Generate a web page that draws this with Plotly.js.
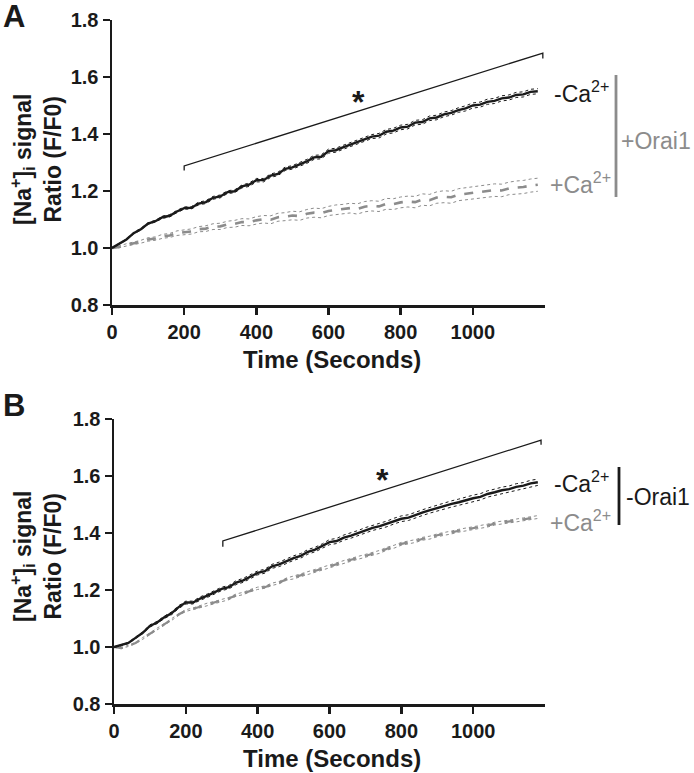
<!DOCTYPE html>
<html>
<head>
<meta charset="utf-8">
<script src="https://cdn.plot.ly/plotly-3.0.1.min.js"></script>
<style>html,body{margin:0;padding:0;background:#fff;}#chart{width:694px;height:773px;}</style>
</head>
<body>
<div id="chart"></div>
<script>
// ---- data ----
const time = [0,20,40,60,80,100,120,140,160,180,200,220,240,260,280,300,320,340,360,380,
  400,420,440,460,480,500,520,540,560,580,600,620,640,660,680,700,720,740,760,780,
  800,820,840,860,880,900,920,940,960,980,1000,1020,1040,1060,1080,1100,1120,1140,1160,1180];

// Panel A (+Orai1)
const aNoCa = [1.000,1.016,1.030,1.052,1.066,1.086,1.094,1.108,1.113,1.128,
  1.140,1.141,1.156,1.161,1.176,1.181,1.196,1.199,1.216,1.222,
  1.238,1.238,1.254,1.260,1.278,1.283,1.294,1.304,1.318,1.320,
  1.340,1.343,1.353,1.362,1.373,1.380,1.391,1.394,1.408,1.412,
  1.423,1.426,1.440,1.442,1.455,1.458,1.469,1.474,1.484,1.490,
  1.500,1.503,1.513,1.516,1.525,1.528,1.537,1.539,1.548,1.550];
const aNoCaSem = [0.001,0.002,0.002,0.003,0.003,0.003,0.003,0.004,0.004,0.004,
  0.004,0.004,0.005,0.005,0.005,0.005,0.005,0.005,0.005,0.006,
  0.006,0.006,0.006,0.006,0.006,0.006,0.006,0.007,0.007,0.007,
  0.007,0.007,0.007,0.007,0.007,0.007,0.007,0.008,0.008,0.008,
  0.008,0.008,0.008,0.008,0.008,0.008,0.008,0.008,0.008,0.009,
  0.009,0.009,0.009,0.009,0.009,0.009,0.009,0.009,0.009,0.009];
const aCa = [1.000,1.004,1.011,1.016,1.022,1.030,1.033,1.041,1.044,1.052,
  1.055,1.058,1.066,1.068,1.075,1.076,1.083,1.085,1.091,1.090,
  1.097,1.101,1.099,1.108,1.110,1.114,1.112,1.120,1.124,1.122,
  1.130,1.134,1.136,1.140,1.137,1.145,1.148,1.146,1.155,1.154,
  1.160,1.163,1.161,1.170,1.168,1.177,1.180,1.178,1.187,1.190,
  1.193,1.195,1.199,1.203,1.202,1.209,1.212,1.214,1.219,1.222];
const aCaSem = [0.002,0.003,0.004,0.005,0.005,0.006,0.006,0.007,0.007,0.008,
  0.008,0.009,0.009,0.010,0.010,0.011,0.011,0.012,0.012,0.012,
  0.013,0.013,0.014,0.014,0.014,0.015,0.015,0.015,0.016,0.016,
  0.016,0.017,0.017,0.017,0.018,0.018,0.018,0.018,0.019,0.019,
  0.019,0.019,0.020,0.020,0.020,0.020,0.021,0.021,0.021,0.021,
  0.021,0.022,0.022,0.022,0.022,0.022,0.023,0.023,0.023,0.023];

// Panel B (-Orai1)
const bNoCa = [1.000,1.006,1.014,1.032,1.050,1.074,1.086,1.104,1.118,1.140,
  1.156,1.156,1.170,1.180,1.192,1.204,1.210,1.226,1.234,1.248,
  1.260,1.266,1.283,1.290,1.302,1.312,1.320,1.334,1.342,1.354,
  1.368,1.372,1.384,1.391,1.400,1.410,1.418,1.424,1.432,1.442,
  1.450,1.454,1.464,1.472,1.480,1.488,1.494,1.502,1.508,1.516,
  1.522,1.527,1.537,1.543,1.550,1.554,1.562,1.566,1.574,1.578];
const bNoCaSem = [0.001,0.002,0.002,0.003,0.003,0.004,0.004,0.004,0.005,0.005,
  0.005,0.005,0.006,0.006,0.006,0.006,0.006,0.007,0.007,0.007,
  0.007,0.007,0.007,0.008,0.008,0.008,0.008,0.008,0.008,0.008,
  0.009,0.009,0.009,0.009,0.009,0.009,0.009,0.009,0.010,0.010,
  0.010,0.010,0.010,0.010,0.010,0.010,0.010,0.011,0.011,0.011,
  0.011,0.011,0.011,0.011,0.011,0.011,0.011,0.011,0.011,0.011];
const bCa = [1.000,0.996,1.004,1.014,1.030,1.046,1.062,1.080,1.096,1.114,
  1.128,1.134,1.142,1.150,1.156,1.164,1.170,1.182,1.188,1.198,
  1.206,1.210,1.220,1.226,1.238,1.244,1.252,1.260,1.266,1.274,
  1.284,1.292,1.298,1.306,1.313,1.320,1.328,1.334,1.345,1.352,
  1.362,1.366,1.372,1.380,1.384,1.392,1.396,1.402,1.408,1.412,
  1.418,1.422,1.426,1.433,1.436,1.441,1.444,1.448,1.452,1.456];
const bCaSem = [0.001,0.002,0.002,0.002,0.003,0.003,0.003,0.003,0.003,0.003,
  0.003,0.003,0.004,0.004,0.004,0.004,0.004,0.004,0.004,0.004,
  0.004,0.004,0.004,0.004,0.004,0.005,0.005,0.005,0.005,0.005,
  0.005,0.005,0.005,0.005,0.005,0.005,0.005,0.005,0.005,0.005,
  0.005,0.005,0.005,0.005,0.005,0.005,0.005,0.005,0.005,0.005,
  0.005,0.005,0.005,0.005,0.005,0.005,0.005,0.005,0.005,0.005];

const xTicks = [0,200,400,600,800,1000];
const yTicks = [0.8,1.0,1.2,1.4,1.6,1.8];
const yTickText = ['0.8','1.0','1.2','1.4','1.6','1.8'];

// ---- styling ----
const BLACK = '#1a1a1a';
const GREY = '#8c8c8c';
const FONT = 'Liberation Sans, Arial, sans-serif';

function band(mean, sem, sign){ return mean.map((v,i)=> v + sign*sem[i]); }

function seriesTraces(mean, sem, color, dash, width, xa, ya, name){
  return [
    {x: time, y: band(mean, sem, 1), mode:'lines', line:{color:color, width:1, dash:'dot'}, xaxis:xa, yaxis:ya, showlegend:false, hoverinfo:'skip'},
    {x: time, y: band(mean, sem, -1), mode:'lines', line:{color:color, width:1, dash:'dot'}, xaxis:xa, yaxis:ya, showlegend:false, hoverinfo:'skip'},
    {x: time, y: mean, mode:'lines', line:{color:color, width:width, dash:dash}, xaxis:xa, yaxis:ya, showlegend:false, name:name}
  ];
}

const data = [].concat(
  seriesTraces(aCa, aCaSem, GREY, 'dash', 2.6, 'x', 'y', '+Ca2+ (+Orai1)'),
  seriesTraces(aNoCa, aNoCaSem, BLACK, 'solid', 2.4, 'x', 'y', '-Ca2+ (+Orai1)'),
  seriesTraces(bCa, bCaSem, GREY, 'dash', 2.2, 'x2', 'y2', '+Ca2+ (-Orai1)'),
  seriesTraces(bNoCa, bNoCaSem, BLACK, 'solid', 2.4, 'x2', 'y2', '-Ca2+ (-Orai1)')
);

const tickFont = {family: FONT, size: 20, color: BLACK, weight: 'bold'};
function xAxis(domain, anchor){
  return {domain: domain, anchor: anchor, range:[0,1200], tickvals: xTicks, ticks:'outside', ticklen:7, tickwidth:2.5,
    tickcolor: BLACK, showline:true, linewidth:2.5, linecolor:BLACK, showgrid:false, zeroline:false, tickfont: tickFont, fixedrange:true};
}
function yAxis(domain, anchor){
  return {domain: domain, anchor: anchor, range:[0.8,1.8], tickvals: yTicks, ticktext: yTickText, ticks:'outside', ticklen:7, tickwidth:2.5,
    tickcolor: BLACK, showline:true, linewidth:2.5, linecolor:BLACK, showgrid:false, zeroline:false, tickfont: tickFont, fixedrange:true};
}

const xTitleFont = {family: FONT, size: 24, color: BLACK, weight: 'bold'};
const yTitleFont = {family: FONT, size: 23, color: BLACK, weight: 'bold'};
const labFont = {family: FONT, size: 23, color: BLACK};
const labFontGrey = {family: FONT, size: 23, color: GREY};
const panelFont = {family: FONT, size: 31, color: BLACK, weight: 'bold'};

const annotations = [
  {text:'A', xref:'paper', yref:'paper', x:1/694, y:1-16/773, xanchor:'left', yanchor:'middle', showarrow:false, font:panelFont},
  {text:'B', xref:'paper', yref:'paper', x:1/694, y:1-405/773, xanchor:'left', yanchor:'middle', showarrow:false, font:panelFont},
  // y titles
  {text:'[Na<sup>+</sup>]<sub>i</sub> signal<br>Ratio (F/F0)', xref:'paper', yref:'paper', x:36/694, y:1-160/773, textangle:-90, showarrow:false, font:yTitleFont, xanchor:'center', yanchor:'middle'},
  {text:'[Na<sup>+</sup>]<sub>i</sub> signal<br>Ratio (F/F0)', xref:'paper', yref:'paper', x:36/694, y:1-557/773, textangle:-90, showarrow:false, font:yTitleFont, xanchor:'center', yanchor:'middle'},
  // x titles
  {text:'Time (Seconds)', xref:'paper', yref:'paper', x:332/694, y:1-359/773, showarrow:false, font:xTitleFont, xanchor:'center', yanchor:'middle'},
  {text:'Time (Seconds)', xref:'paper', yref:'paper', x:332/694, y:1-758/773, showarrow:false, font:xTitleFont, xanchor:'center', yanchor:'middle'},
  // asterisks
  {text:'*', xref:'x', yref:'y', x:683, y:1.512, showarrow:false, font:{family:FONT, size:32, color:BLACK, weight:'bold'}},
  {text:'*', xref:'x2', yref:'y2', x:747, y:1.585, showarrow:false, font:{family:FONT, size:32, color:BLACK, weight:'bold'}},
  // series labels A
  {text:'-Ca<sup>2+</sup>', xref:'paper', yref:'paper', x:552/694, y:1-92/773, xanchor:'left', yanchor:'middle', showarrow:false, font:labFont},
  {text:'+Ca<sup>2+</sup>', xref:'paper', yref:'paper', x:548/694, y:1-183/773, xanchor:'left', yanchor:'middle', showarrow:false, font:labFontGrey},
  {text:'+Orai1', xref:'paper', yref:'paper', x:619/694, y:1-141/773, xanchor:'left', yanchor:'middle', showarrow:false, font:labFontGrey},
  // series labels B
  {text:'-Ca<sup>2+</sup>', xref:'paper', yref:'paper', x:552/694, y:1-482/773, xanchor:'left', yanchor:'middle', showarrow:false, font:labFont},
  {text:'+Ca<sup>2+</sup>', xref:'paper', yref:'paper', x:548/694, y:1-521/773, xanchor:'left', yanchor:'middle', showarrow:false, font:labFontGrey},
  {text:'-Orai1', xref:'paper', yref:'paper', x:624/694, y:1-497/773, xanchor:'left', yanchor:'middle', showarrow:false, font:labFont}
];

const shapes = [
  {type:'path', xref:'x', yref:'y', path:'M 200,1.272 L 200,1.288 L 1194,1.684 L 1194,1.665', line:{color:BLACK, width:1.3}},
  {type:'path', xref:'x2', yref:'y2', path:'M 303,1.352 L 303,1.372 L 1189,1.726 L 1189,1.71', line:{color:BLACK, width:1.3}},
  {type:'line', xref:'paper', yref:'paper', x0:616/694, x1:616/694, y0:1-75/773, y1:1-197/773, line:{color:GREY, width:2.8}},
  {type:'line', xref:'paper', yref:'paper', x0:619/694, x1:619/694, y0:1-467/773, y1:1-525/773, line:{color:BLACK, width:2.8}}
];

const layout = {
  width:694, height:773,
  margin:{l:0, r:0, t:0, b:0},
  paper_bgcolor:'#fff', plot_bgcolor:'rgba(0,0,0,0)',
  showlegend:false,
  font:{family:FONT, color:BLACK},
  xaxis: xAxis([112/694, 545/694], 'y'),
  yaxis: yAxis([1-305/773, 1-20/773], 'x'),
  xaxis2: xAxis([114/694, 545/694], 'y2'),
  yaxis2: yAxis([1-704/773, 1-419/773], 'x2'),
  annotations: annotations,
  shapes: shapes
};

Plotly.newPlot('chart', data, layout, {staticPlot:true, displayModeBar:false});
</script>
</body>
</html>
